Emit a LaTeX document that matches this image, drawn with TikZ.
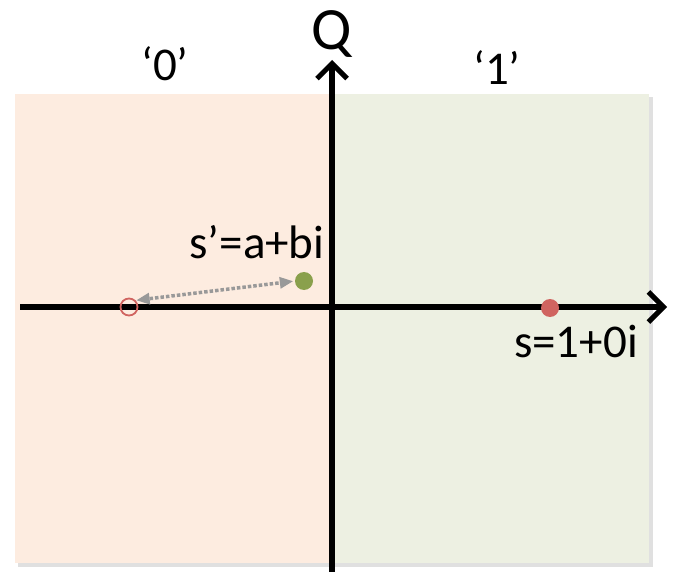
\documentclass[tikz,border=0pt]{standalone}
\usepackage{fontspec}
\setmainfont{Carlito}
\usetikzlibrary{arrows.meta}
\definecolor{peach}{HTML}{FDECE0}
\definecolor{sage}{HTML}{EDF0E2}
\definecolor{dotred}{HTML}{D06460}
\definecolor{dotgreen}{HTML}{8AA04C}
\begin{document}
\begin{tikzpicture}[x=1pt,y=-1pt,
  lbl/.style={font=\fontsize{47}{50}\selectfont, inner sep=0pt},
  axis/.style={line width=5.5pt, -{Straight Barb[length=15pt,width=30pt,line width=5pt]}},
  pt/.style={circle, inner sep=0pt, minimum size=18pt}]
\useasboundingbox (0,0) rectangle (691,572);
% shadow
\fill[black!12] (18,97) rectangle (653,567);
\fill[peach] (15,94) rectangle (332,563);
\fill[sage] (332,94) rectangle (649,563);
% axes
\coordinate (xl) at (20,307);
\coordinate (xr) at (667,307);
\coordinate (yb) at (332,572);
\coordinate (yt) at (332,60);
\draw[axis] (xl) -- (xr);
\draw[axis] (yb) -- (yt);
% labels
\node[lbl, font=\fontsize{60}{62}\selectfont] (Q) at (332,34) {Q};
\node[lbl] (z) at (165,64) {‘0’};
\node[lbl] (o) at (497,68) {‘1’};
% points
\node[pt, fill=dotgreen] (g) at (304,281) {};
\node[pt, draw=dotred, line width=1.8pt, minimum size=17pt] (r) at (129,307) {};
\node[pt, fill=dotred] (s) at (550,308) {};
\node[lbl] (gl) at (257,242) {s’=a+bi};
\node[lbl] (sl) at (576,342) {s=1+0i};
\draw[black!40, line width=3.5pt, dotted, {Triangle[length=13pt,width=12pt,line width=0pt]}-{Triangle[length=13pt,width=12pt,line width=0pt]}, shorten <=1pt, shorten >=2pt] (r.north east) -- (g.west);
\end{tikzpicture}
\end{document}
